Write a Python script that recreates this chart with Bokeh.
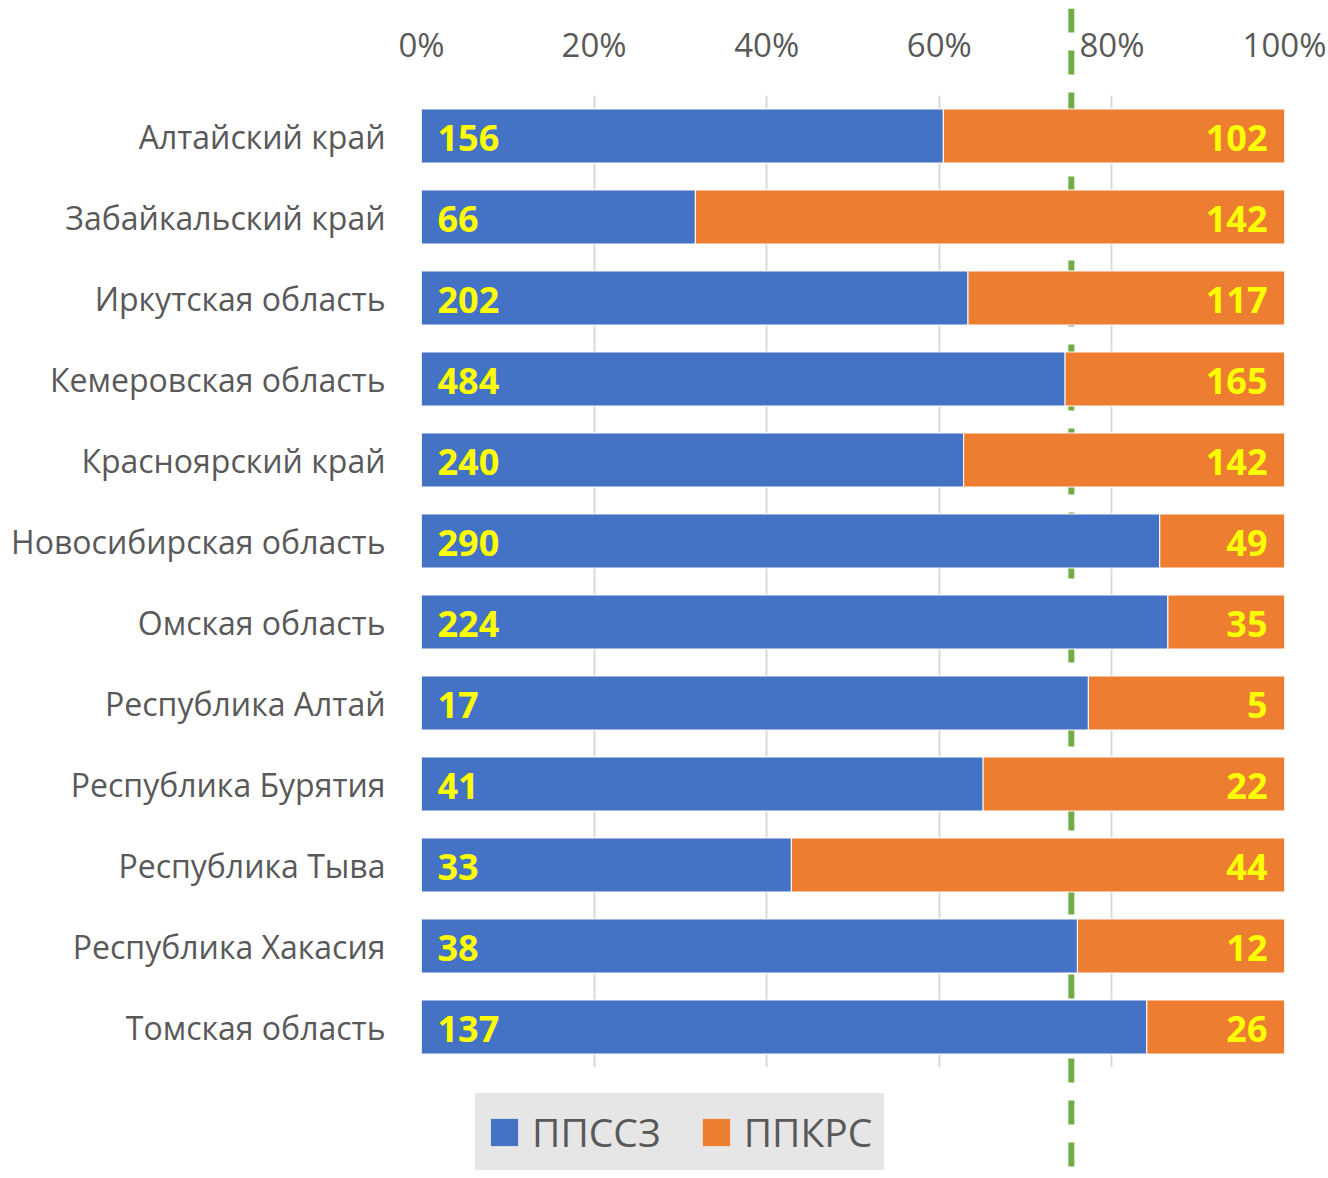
from bokeh.plotting import figure
from bokeh.layouts import column
from bokeh.models import (FactorRange, Range1d, FixedTicker, NumeralTickFormatter,
                          ColumnDataSource, Legend, LegendItem, LabelSet)
from bokeh.core.properties import value
from bokeh.embed import file_html
from bokeh.resources import INLINE

regions = ["Алтайский край", "Забайкальский край", "Иркутская область",
           "Кемеровская область", "Красноярский край", "Новосибирская область",
           "Омская область", "Республика Алтай", "Республика Бурятия",
           "Республика Тыва", "Республика Хакасия", "Томская область"]
ppssz = [156, 66, 202, 484, 240, 290, 224, 17, 41, 33, 38, 137]
ppkrs = [102, 142, 117, 165, 142, 49, 35, 5, 22, 44, 12, 26]
series_names = ["ППССЗ", "ППКРС"]
series_colors = ["#4472C4", "#ED7D31"]
x_ticks = [0, 0.2, 0.4, 0.6, 0.8, 1.0]
target_share = 0.753

share_a = [a / (a + b) for a, b in zip(ppssz, ppkrs)]
share_b = [b / (a + b) for a, b in zip(ppssz, ppkrs)]

src = ColumnDataSource(dict(region=regions, a=share_a, b=share_b,
                            la=[str(v) for v in ppssz], lb=[str(v) for v in ppkrs],
                            zero=[0] * len(regions), one=[1] * len(regions)))

FONT = "Open Sans"
GREY = "#595959"
LEG_BG = "#E7E6E6"
W, H = 1328, 1178
LEFT, RIGHT = 421, 44
NAN = float("nan")

xr = Range1d(0, 1)

# underlying figure: dashed target line over the full height + legend
q = figure(width=W, height=H, output_backend="svg", toolbar_location=None,
           x_range=xr, y_range=Range1d(0, 1), x_axis_location=None,
           y_axis_location=None, min_border_left=LEFT, min_border_right=RIGHT,
           min_border_top=8, min_border_bottom=0)
q.outline_line_color = None
q.grid.visible = False
q.segment(x0=[target_share], y0=[1], x1=[target_share], y1=[0],
          line_color="#70AD47", line_width=6, line_dash="24 18", line_cap="butt")
# legend proxies (no visible data of their own)
leg_r = [q.quad(left=[NAN], right=[NAN], top=[NAN], bottom=[NAN],
                fill_color=c, line_color=None) for c in series_colors]
legend = Legend(items=[LegendItem(label=n, renderers=[r])
                       for n, r in zip(series_names, leg_r)],
                orientation="horizontal", location=(54, 8),
                background_fill_color=LEG_BG, background_fill_alpha=1,
                border_line_color=LEG_BG, border_line_width=1,
                padding=11, spacing=38, margin=0,
                glyph_width=34, glyph_height=34, label_standoff=11,
                label_text_font=FONT, label_text_font_size="39px",
                label_text_color=GREY, label_text_baseline="middle")
q.add_layout(legend, "center")

# main chart, transparent so the line shows behind the bars
p = figure(width=W, height=H, output_backend="svg", toolbar_location=None,
           y_range=FactorRange(factors=list(reversed(regions))),
           x_range=xr, x_axis_location="above",
           min_border_left=LEFT, min_border_right=RIGHT,
           min_border_top=95, min_border_bottom=111)
p.outline_line_color = None
p.background_fill_alpha = 0
p.border_fill_alpha = 0
p.margin = (-H, 0, 0, 0)

rs = p.hbar_stack(["a", "b"], y="region", height=0.667, source=src,
                  color=series_colors, line_color="white", line_width=1)

p.add_layout(LabelSet(x="zero", y="region", text="la", source=src, x_offset=16,
                      y_offset=-2, text_align="left", text_baseline="middle",
                      text_font=value(FONT), text_font_style="bold",
                      text_font_size=value("36px"), text_color="#FFFF00"))
p.add_layout(LabelSet(x="one", y="region", text="lb", source=src, x_offset=-17,
                      y_offset=-2, text_align="right", text_baseline="middle",
                      text_font=value(FONT), text_font_style="bold",
                      text_font_size=value("36px"), text_color="#FFFF00"))

xa = p.xaxis[0]
xa.ticker = FixedTicker(ticks=x_ticks)
xa.formatter = NumeralTickFormatter(format="0%")
xa.axis_line_color = None
xa.major_tick_line_color = None
xa.minor_tick_line_color = None
xa.major_tick_out = 0
xa.major_label_standoff = 29
xa.major_label_text_font = FONT
xa.major_label_text_font_size = "33px"
xa.major_label_text_color = GREY

ya = p.yaxis[0]
ya.axis_line_color = None
ya.major_tick_line_color = None
ya.major_tick_out = 0
ya.major_label_standoff = 36
ya.major_label_text_font = FONT
ya.major_label_text_font_size = "32px"
ya.major_label_text_color = GREY

p.xgrid.grid_line_color = "#D9D9D9"
p.xgrid.grid_line_width = 2
p.xgrid.ticker = FixedTicker(ticks=x_ticks)
p.ygrid.grid_line_color = None

layout = column(q, p, spacing=0)
open("out.html", "w").write(file_html(layout, INLINE))
